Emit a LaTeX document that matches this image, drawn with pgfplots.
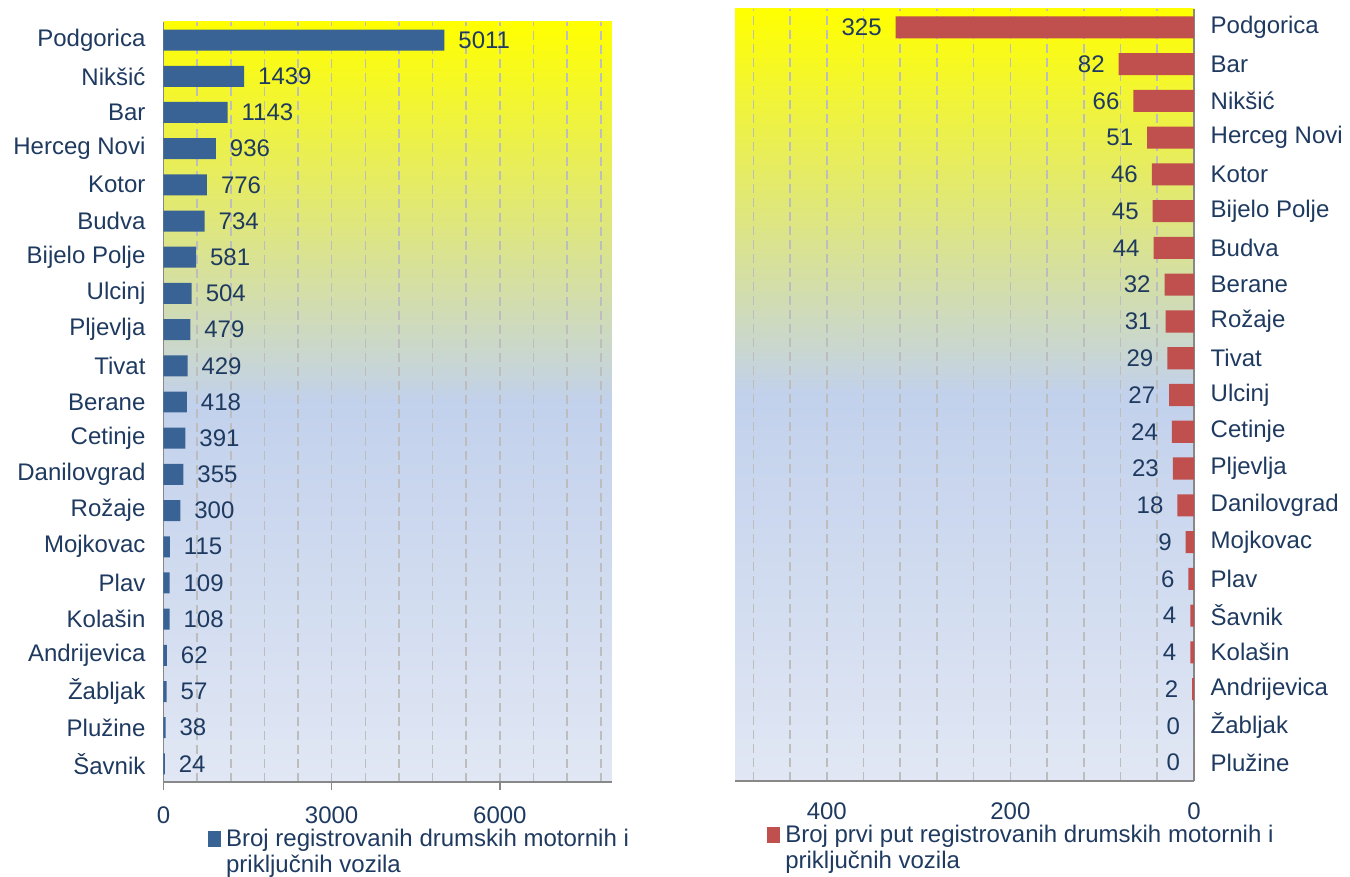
\documentclass[border=0pt]{standalone}
\usepackage{fontspec}
\setmainfont{Liberation Sans}
\usepackage{pgfplots}
\pgfplotsset{compat=1.18}

\definecolor{txt}{HTML}{1F3A60}
\definecolor{barblue}{HTML}{3A6395}
\definecolor{barred}{HTML}{C0504D}
\definecolor{gridc}{HTML}{BDBDBD}
\definecolor{axc}{HTML}{888888}
\definecolor{bgtop}{HTML}{FFFF00}
\definecolor{bgmid}{HTML}{C2D1EC}
\definecolor{bgbot}{HTML}{E1E7F4}
\newcommand\fs{\fontsize{18}{19.5}\selectfont}

\pgfplotsset{
  twobar/.style={
    xbar, scale only axis,
    ymin=-0.5, ymax=20.5, ytick={0,...,20},
    axis background/.style={shade, top color=bgtop, bottom color=bgbot, middle color=bgmid},
    xminorgrids=true,
    minor grid style={gridc, line width=1.2pt, dash pattern=on 7pt off 3.5pt},
    ytick style={draw=none},
    minor tick length=0pt,
    tick label style={font=\fs, text=txt},
    /pgf/number format/assume math mode=true,
    /pgf/number format/1000 sep={},
    scaled x ticks=false,
    nodes near coords,
    every node near coord/.append style={font=\fs, text=txt},
    legend style={draw=none, fill=none, font=\fs, text=txt, inner sep=0pt,
      cells={anchor=base west}, nodes={inner sep=0pt}, column sep=4pt},
    legend image code/.code={\fill[##1, draw=none] (0pt,0pt) rectangle (9.5pt,12pt);},
  },
  plainlines/.style={
    axis line style={axc, line width=1.3pt, -},
    every outer x axis line/.append style={-},
    every outer y axis line/.append style={-},
    every inner x axis line/.append style={-},
    every inner y axis line/.append style={-},
  }
}

\begin{document}
\begin{tikzpicture}
\useasboundingbox (0,0) rectangle (1012.5pt,657pt);

% left: all registered vehicles
\begin{axis}[twobar,
  at={(122.6pt,70.5pt)}, anchor=south west,
  width=336.4pt, height=570pt,
  xmin=0, xmax=8000,
  xtick={0,3000,6000},
  minor xtick={600,1200,...,7800,3000,6000},
  axis x line=bottom, axis y line=left, plainlines,
  tick align=outside, major tick length=6pt,
  xtick style={axc, line width=1.2pt},
  xticklabel style={inner sep=1pt, yshift=-11pt},
  yticklabel style={xshift=-4pt},
  yticklabels={Šavnik, Plužine, Žabljak, Andrijevica, Kolašin, Plav, Mojkovac, Rožaje, Danilovgrad, Cetinje, Berane, Tivat, Pljevlja, Ulcinj, Bijelo Polje, Budva, Kotor, Herceg Novi, Bar, Nikšić, Podgorica},
  bar width=0.58,
  every node near coord/.append style={anchor=west, xshift=7pt},
  legend style={at={(0.099,-0.062)}, anchor=north west},
]
\addplot[fill=barblue, draw=none] coordinates {
  (24,0) (38,1) (57,2) (62,3) (108,4) (109,5) (115,6) (300,7) (355,8) (391,9) (418,10)
  (429,11) (479,12) (504,13) (581,14) (734,15) (776,16) (936,17) (1143,18) (1439,19) (5011,20)
};
\addlegendentry{\parbox[t]{320pt}{\raggedright Broj registrovanih drumskih motornih i\\priključnih vozila}}
\end{axis}

% right: first registered vehicles
\begin{axis}[twobar,
  at={(551.25pt,71.25pt)}, anchor=south west,
  width=344.25pt, height=579pt,
  x dir=reverse,
  xmin=0, xmax=500,
  xtick={0,200,400},
  minor xtick={40,80,...,480,200,400},
  axis x line=bottom, axis y line=right, plainlines,
  major tick length=0pt,
  xticklabel style={inner sep=1pt, yshift=-15pt},
  yticklabel style={anchor=west, xshift=9pt},
  yticklabels={Plužine, Žabljak, Andrijevica, Kolašin, Šavnik, Plav, Mojkovac, Danilovgrad, Pljevlja, Cetinje, Ulcinj, Tivat, Rožaje, Berane, Budva, Bijelo Polje, Kotor, Herceg Novi, Nikšić, Bar, Podgorica},
  bar width=0.6,
  every node near coord/.append style={anchor=east, xshift=-7pt},
  legend style={at={(0.0697,-0.057)}, anchor=north west},
]
\addplot[fill=barred, draw=none] coordinates {
  (0,0) (0,1) (2,2) (4,3) (4,4) (6,5) (9,6) (18,7) (23,8) (24,9) (27,10)
  (29,11) (31,12) (32,13) (44,14) (45,15) (46,16) (51,17) (66,18) (82,19) (325,20)
};
\addlegendentry{\parbox[t]{380pt}{\raggedright Broj prvi put registrovanih drumskih motornih i\\priključnih vozila}}
\end{axis}
\end{tikzpicture}
\end{document}
